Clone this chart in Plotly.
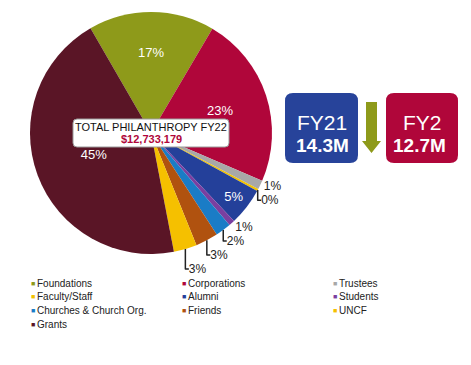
import plotly.graph_objects as go

# ---- data ----
categories = ["Foundations", "Corporations", "Trustees", "Faculty/Staff", "Alumni",
              "Students", "Churches & Church Org.", "Friends", "UNCF", "Grants"]
shares = [16.8, 23.0, 1.2, 0.3, 5.0, 0.8, 2.1, 3.0, 3.1, 44.7]
colors = ["#8E9A1A", "#B0063A", "#A8A8A8", "#F2C200", "#24409A",
          "#7A3FA0", "#1A7CC6", "#B0520F", "#F5C000", "#5A1526"]
positions = ["inside", "inside", "outside", "outside", "inside",
             "outside", "outside", "outside", "outside", "inside"]
total_title = "TOTAL PHILANTHROPY FY22"
total_value = "$12,733,179"
fy_prev = ("FY21", "14.3M")
fy_curr = ("FY2", "12.7M")

OFF = 8  # page body margin
W, H = 471 - OFF, 365 - OFF
def px(x): return (x - OFF) / W
def py(y): return 1 - (y - OFF) / H

FONT = "Liberation Sans, Arial, sans-serif"

fig = go.Figure()
fig.add_trace(go.Pie(
    labels=categories, values=shares, sort=False, direction="clockwise",
    rotation=-30,
    marker=dict(colors=colors, line=dict(width=0)),
    textinfo="percent", texttemplate="%{percent:.0%}",
    textposition=positions,
    insidetextorientation="horizontal",
    insidetextfont=dict(color="white", size=13, family=FONT),
    outsidetextfont=dict(color="#222222", size=12, family=FONT),
    hoverinfo="skip", showlegend=False,
    domain=dict(x=[px(30), px(272)], y=[py(254), py(12)]),
))

def rounded_rect(x0, y0, x1, y1, r):
    X0, X1 = px(x0), px(x1)
    rx, ry = r / W, r / H
    Y0, Y1 = py(y0), py(y1)
    return (f"M {X0+rx},{Y0} L {X1-rx},{Y0} Q {X1},{Y0} {X1},{Y0-ry} "
            f"L {X1},{Y1+ry} Q {X1},{Y1} {X1-rx},{Y1} L {X0+rx},{Y1} "
            f"Q {X0},{Y1} {X0},{Y1+ry} L {X0},{Y0-ry} Q {X0},{Y0} {X0+rx},{Y0} Z")

shapes = [
    dict(type="path", xref="paper", yref="paper", path=rounded_rect(73, 119, 229, 147, 4),
         fillcolor="white", line=dict(color="#9a9a9a", width=1)),
    dict(type="path", xref="paper", yref="paper", path=rounded_rect(285, 93, 358, 163, 8),
         fillcolor="#27439A", line=dict(width=0)),
    dict(type="path", xref="paper", yref="paper", path=rounded_rect(386, 93, 458, 163, 8),
         fillcolor="#B0063A", line=dict(width=0)),
    dict(type="path", xref="paper", yref="paper",
         path=(f"M {px(366)},{py(102)} L {px(377)},{py(102)} L {px(377)},{py(141)} "
               f"L {px(381)},{py(141)} L {px(371.5)},{py(153)} L {px(362)},{py(141)} "
               f"L {px(366)},{py(141)} Z"),
         fillcolor="#8E9A1A", line=dict(width=0)),
]

def ann(x, y, text, size, color, anchor="center"):
    return dict(x=px(x), y=py(y), xref="paper", yref="paper", showarrow=False,
                xanchor=anchor, yanchor="middle", text=text,
                font=dict(size=size, color=color, family=FONT))

annotations = [
    ann(151, 127, total_title, 11, "#111"),
    ann(151, 138.5, f"<b>{total_value}</b>", 11, "#B0063A"),
    ann(322, 123, fy_prev[0], 21, "white"),
    ann(322, 145, f"<b>{fy_prev[1]}</b>", 19, "white"),
    ann(422, 123, fy_curr[0], 21, "white"),
    ann(419, 145, f"<b>{fy_curr[1]}</b>", 19, "white"),
]

col_x = [29, 180, 331]
row_y0, row_dy = 283, 13.8
for i, (name, c) in enumerate(zip(categories, colors)):
    r, k = divmod(i, 3)
    y = row_y0 + r * row_dy
    annotations.append(ann(col_x[k], y, f"<span style='color:{c}'>■</span>", 7, c, "left"))
    annotations.append(ann(col_x[k] + 6, y, name, 10, "#222", "left"))

fig.update_layout(
    width=W, height=H, margin=dict(l=0, r=0, t=0, b=0),
    paper_bgcolor="white", plot_bgcolor="white",
    showlegend=False,
    shapes=shapes, annotations=annotations,
)
fig.write_html("out.html")
